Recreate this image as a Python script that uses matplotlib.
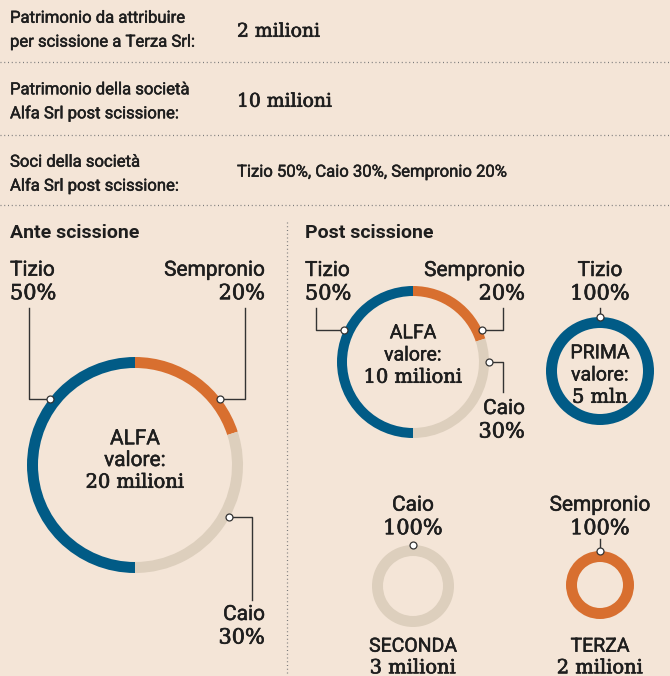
import numpy as np
import matplotlib.pyplot as plt
import matplotlib.patheffects as pe

##### Data #####
W, H = 670, 676

row_labels = ['Patrimonio da attribuire\nper scissione a Terza Srl:',
              'Patrimonio della società\nAlfa Srl post scissione:',
              'Soci della società\nAlfa Srl post scissione:']
row_values = ['2 milioni', '10 milioni', 'Tizio 50%, Caio 30%, Sempronio 20%']

# shares in clockwise order from 12 o'clock
owners = ['Sempronio', 'Caio', 'Tizio']
alfa_ante_shares = [20, 30, 50]
alfa_post_shares = [20, 30, 50]
prima_shares = [100]
seconda_shares = [100]
terza_shares = [100]

alfa_ante_value = '20 milioni'
alfa_post_value = '10 milioni'
prima_value = '5 mln'
seconda_value = '3 milioni'
terza_value = '2 milioni'

owner_colors = {'Tizio': '#015B86', 'Caio': '#DDCFBD', 'Sempronio': '#D86F2F'}

##### Style #####
BG = '#F4E5D7'
INK = '#1E1E1E'
SANS = ['Roboto', 'DejaVu Sans']
SERIF = ['DejaVu Serif']
# a thin outline makes the regular cuts look a bit heavier, like the original
HEAVY_SERIF = [pe.withStroke(linewidth=0.5, foreground=INK)]
HEAVY_SANS = [pe.withStroke(linewidth=0.35, foreground=INK)]

fig = plt.figure(figsize=(W / 100, H / 100), dpi=100, facecolor=BG)
ax = fig.add_axes([0, 0, 1, 1], facecolor=BG)


def txt(x, y, s, size, fam, ha='left', **kw):
    effects = HEAVY_SERIF if fam is SERIF else HEAVY_SANS
    ax.text(x, y, s, ha=ha, va='baseline', fontsize=size, family=fam, color=INK,
            path_effects=effects, **kw)


def ring(cx, cy, r, width, shares, names):
    ax.pie(shares, colors=[owner_colors[n] for n in names], center=(cx, cy), radius=r,
           startangle=270, counterclock=True, wedgeprops=dict(width=width, linewidth=0))


def dot(cx, cy, r, angle):
    a = np.deg2rad(angle)
    x, y = cx + r * np.cos(a), cy - r * np.sin(a)
    ax.plot(x, y, marker='o', ms=5, mfc='white', mec='#333333', mew=0.9, zorder=5)
    return x, y


def leader(pts):
    xs, ys = zip(*pts)
    ax.plot(xs, ys, color='#333333', lw=1, zorder=4)


def owner_label(x, y, name, pct, ha):
    txt(x, y, name, 15, SANS, ha)
    txt(x, y + 23.5, f'{pct}%', 15, SERIF, ha)


def center_text(x, y, lines, sizes, fams, step):
    for i, (t, s, f) in enumerate(zip(lines, sizes, fams)):
        txt(x, y + i * step, t, s, f, 'center')


def dotted_h(y):
    ax.plot([0, W], [y, y], color='#7A7A7A', lw=0.9, ls=(0, (0.8, 2.2)))


##### Top table #####
label_base = [22.7, 94.3, 166.7]
value_base = [36.7, 106.7, 176.7]
for lab, val, yb, yv in zip(row_labels, row_values, label_base, value_base):
    for i, line in enumerate(lab.split('\n')):
        txt(10, yb + i * 24, line, 12, SANS)
    if '%' in val:
        txt(237, yv, val, 12, SANS)
    else:
        txt(237, yv, val, 13.5, SERIF)
for y in [62.3, 135, 205]:
    dotted_h(y)
ax.plot([287, 287], [222, H], color='#7A7A7A', lw=0.9, ls=(0, (0.8, 2.2)))

##### Ante scissione #####
ax.text(10, 238.3, 'Ante scissione', va='baseline', fontsize=14, fontweight='bold',
        family=SANS, color=INK)
cx, cy, r = 135, 465, 108
ring(cx, cy, r, 11, alfa_ante_shares, owners)
center_text(cx, 444.3, ['ALFA', 'valore:', alfa_ante_value], [15, 15, 14], [SANS, SANS, SERIF], 21.7)

tx, ty = dot(cx, cy, r, 142)
leader([(29, 308), (29, ty), (tx, ty)])
owner_label(10, 275.7, 'Tizio', alfa_ante_shares[2], 'left')

sx, sy = dot(cx, cy, r, 38)
leader([(245, 308), (245, sy), (sx, sy)])
owner_label(265, 275.7, 'Sempronio', alfa_ante_shares[0], 'right')

kx, ky = dot(cx, cy, r, -29)
leader([(kx, ky), (252, ky), (252, 600)])
owner_label(265, 620, 'Caio', alfa_ante_shares[1], 'right')

##### Post scissione #####
ax.text(305, 238.3, 'Post scissione', va='baseline', fontsize=14, fontweight='bold',
        family=SANS, color=INK)

# ALFA post
cx, cy, r = 413, 362, 76
ring(cx, cy, r, 10, alfa_post_shares, owners)
center_text(cx, 338.3, ['ALFA', 'valore:', alfa_post_value], [14, 14, 14], [SANS, SANS, SERIF], 22.2)

tx, ty = dot(cx, cy, r, 155)
leader([(316, 308), (316, ty), (tx, ty)])
owner_label(305, 276, 'Tizio', alfa_post_shares[2], 'left')

sx, sy = dot(cx, cy, r, 25)
leader([(503, 308), (503, sy), (sx, sy)])
owner_label(525, 276, 'Sempronio', alfa_post_shares[0], 'right')

kx, ky = dot(cx, cy, r, 0)
leader([(kx, ky), (503, ky), (503, 392)])
owner_label(525, 414, 'Caio', alfa_post_shares[1], 'right')

# PRIMA
cx, cy, r = 600, 371, 54
ring(cx, cy, r, 11, prima_shares, ['Tizio'])
center_text(cx, 358.3, ['PRIMA', 'valore:', prima_value], [14, 14, 14], [SANS, SANS, SERIF], 22.2)
px, py = dot(cx, cy, r, 90)
leader([(px, 308), (px, py)])
owner_label(cx, 276, 'Tizio', prima_shares[0], 'center')

# SECONDA
cx, cy, r = 413, 586, 41
ring(cx, cy, r, 11, seconda_shares, ['Caio'])
px, py = dot(cx, cy, r, 90)
owner_label(cx, 510.7, 'Caio', seconda_shares[0], 'center')
center_text(cx, 651.7, ['SECONDA', seconda_value], [14, 14], [SANS, SERIF], 21.6)

# TERZA
cx, cy, r = 600, 585, 34
ring(cx, cy, r, 11, terza_shares, ['Sempronio'])
px, py = dot(cx, cy, r, 90)
leader([(px, 539), (px, py)])
owner_label(cx, 510.7, 'Sempronio', terza_shares[0], 'center')
center_text(cx, 651.7, ['TERZA', terza_value], [14, 14], [SANS, SERIF], 21.6)

ax.set_xlim(0, W)
ax.set_ylim(H, 0)
ax.set_aspect('equal', adjustable='box')
ax.axis('off')

fig.savefig('out.png', dpi=100, facecolor=BG)
